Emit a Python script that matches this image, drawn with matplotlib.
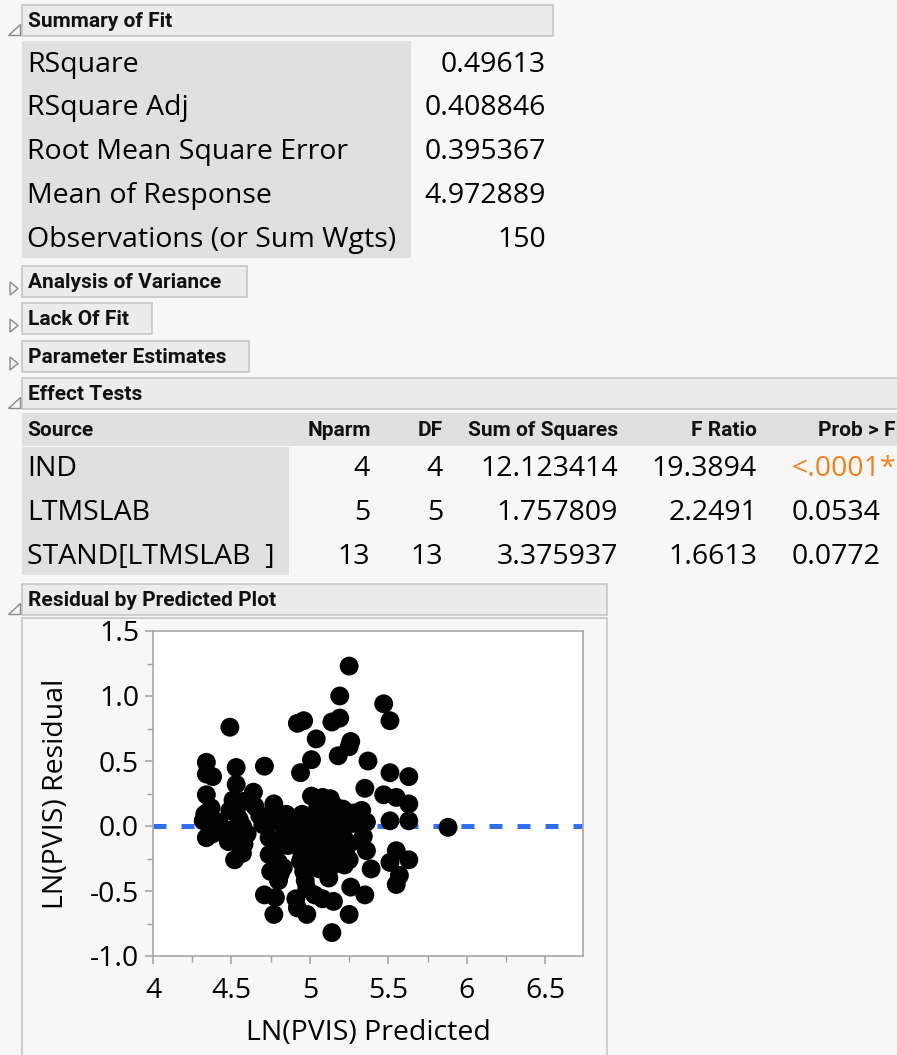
import matplotlib
matplotlib.use("Agg")
import matplotlib.pyplot as plt
from matplotlib.patches import Rectangle, Polygon
from matplotlib.ticker import MultipleLocator

# ---------------- data ----------------
fit_labels = ["RSquare", "RSquare Adj", "Root Mean Square Error", "Mean of Response",
              "Observations (or Sum Wgts)"]
fit_values = ["0.49613", "0.408846", "0.395367", "4.972889", "150"]

collapsed_sections = ["Analysis of Variance", "Lack Of Fit", "Parameter Estimates"]

effect_cols = ["Source", "Nparm", "DF", "Sum of Squares", "F Ratio", "Prob > F"]
effect_source = ["IND", "LTMSLAB", "STAND[LTMSLAB  ]"]
effect_nparm = ["4", "5", "13"]
effect_df = ["4", "5", "13"]
effect_ss = ["12.123414", "1.757809", "3.375937"]
effect_f = ["19.3894", "2.2491", "1.6613"]
effect_p = ["<.0001*", "0.0534", "0.0772"]

pred = [4.34, 4.34, 4.38, 4.34, 4.37, 4.33, 4.32, 4.38, 4.42, 4.34, 4.38, 4.36, 4.40, 4.35,
        4.49, 4.53, 4.53, 4.54, 4.58, 4.49, 4.53, 4.48, 4.53, 4.58, 4.52, 4.57, 4.55, 4.50,
        4.57, 4.60, 4.51, 4.56,
        4.64, 4.65, 4.71, 4.70, 4.68,
        4.77, 4.74, 4.74, 4.79, 4.74, 4.80, 4.75, 4.81, 4.71, 4.78, 4.77, 4.85, 4.82, 4.84,
        4.78, 4.83, 4.76, 4.86, 4.80,
        4.92, 4.96, 4.94, 4.91, 4.92, 4.98, 4.96, 4.97, 4.94, 4.93, 4.95, 4.90, 4.96, 4.99,
        4.92, 4.97, 4.89, 4.98, 4.95,
        5.01, 5.04, 5.01, 5.08, 5.03, 5.08, 5.04, 5.02, 5.05, 5.07, 5.02, 5.06, 5.09, 5.03,
        5.05, 5.08, 5.01, 5.06, 5.09,
        5.14, 5.19, 5.19, 5.18, 5.13, 5.15, 5.14, 5.13, 5.12, 5.15, 5.11, 5.17, 5.14, 5.19,
        5.16, 5.18, 5.12, 5.20, 5.11,
        5.25, 5.26, 5.25, 5.21, 5.25, 5.25, 5.26, 5.23, 5.22, 5.28, 5.24, 5.27, 5.22,
        5.37, 5.35, 5.33, 5.36, 5.32, 5.36, 5.39, 5.35, 5.34,
        5.47, 5.51, 5.51, 5.63, 5.47, 5.55, 5.63, 5.51, 5.63, 5.51, 5.55, 5.63, 5.57, 5.55,
        5.88]
resid = [0.49, 0.40, 0.38, 0.24, 0.14, 0.09, 0.04, 0.02, 0.03, -0.09, -0.06, 0.06, -0.02, 0.11,
         0.76, 0.45, 0.32, 0.18, 0.19, 0.12, 0.10, -0.12, -0.10, -0.14, -0.26, -0.21, 0.05, -0.03,
         0.00, -0.06, 0.20, -0.18,
         0.26, 0.15, 0.46, 0.01, 0.08,
         0.17, 0.03, -0.09, -0.14, -0.22, -0.28, -0.35, -0.37, -0.53, -0.55, -0.68, 0.09, 0.02, -0.06,
         -0.20, -0.32, 0.10, -0.15, -0.42,
         0.79, 0.81, 0.41, -0.56, -0.63, -0.68, -0.35, -0.42, -0.27, 0.05, 0.09, -0.05, -0.10, -0.18,
         -0.13, 0.00, 0.02, -0.48, -0.22,
         0.51, 0.67, 0.23, 0.22, -0.53, -0.56, -0.27, 0.05, -0.05, 0.12, -0.12, -0.20, -0.02, -0.30,
         0.15, -0.10, -0.22, -0.33, 0.18,
         0.80, 0.83, 1.00, 0.54, 0.21, -0.58, -0.82, -0.32, 0.08, 0.00, -0.08, -0.15, -0.22, 0.10,
         0.15, -0.05, -0.40, -0.25, 0.12,
         1.23, 0.65, 0.61, 0.13, -0.26, -0.68, -0.47, 0.05, -0.10, 0.10, -0.15, 0.02, -0.30,
         0.50, 0.29, 0.12, 0.03, -0.12, -0.19, -0.33, -0.53, -0.08,
         0.94, 0.81, 0.41, 0.38, 0.24, 0.22, 0.17, 0.04, 0.04, -0.28, -0.19, -0.26, -0.38, -0.45,
         -0.01]

x_ticks = [4, 4.5, 5, 5.5, 6, 6.5]
x_ticklabels = ["4", "4.5", "5", "5.5", "6", "6.5"]
y_ticks = [-1.0, -0.5, 0.0, 0.5, 1.0, 1.5]
y_ticklabels = ["-1.0", "-0.5", "0.0", "0.5", "1.0", "1.5"]

# ---------------- style ----------------
W, H = 897, 1055
BG = "#f7f7f7"
HDR = "#ececec"
HDR_EDGE = "#c6c6c6"
SHADE = "#e0e0e0"
BODY_FONT = ["Open Sans", "DejaVu Sans"]
HEAD_FONT = ["Liberation Sans Narrow", "Roboto", "DejaVu Sans"]
BODY_SIZE = 20.5
HEAD_SIZE = 15

fig = plt.figure(figsize=(W / 100, H / 100), dpi=100)
fig.patch.set_facecolor(BG)
bg = fig.add_axes([0, 0, 1, 1])
bg.set_xlim(0, W)
bg.set_ylim(H, 0)
bg.axis("off")


def header(x0, y0, x1, y1, text, opened):
    bg.add_patch(Rectangle((x0, y0), x1 - x0, y1 - y0, facecolor=HDR,
                           edgecolor=HDR_EDGE, lw=1.2))
    bg.text(x0 + 6, (y0 + y1) / 2 + 1, text, family=HEAD_FONT, weight="bold",
            fontsize=HEAD_SIZE, va="center", ha="left", color="#111111")
    if opened:
        tri = [(8, y1 - 1), (20, y1 - 1), (20, y1 - 12)]
    else:
        tri = [(10, y1 - 15), (10, y1 - 2), (18, y1 - 8.5)]
    bg.add_patch(Polygon(tri, closed=True, facecolor="#f4f4f4",
                         edgecolor="#8a8a8a", lw=1.0))


# Summary of Fit
header(22, 5, 553, 36, "Summary of Fit", True)
bg.add_patch(Rectangle((22, 41), 389, 217, facecolor=SHADE, edgecolor="none"))
row_y = [65, 108, 152, 196, 240]
for lab, val, yy in zip(fit_labels, fit_values, row_y):
    bg.text(27, yy, lab, family=BODY_FONT, fontsize=BODY_SIZE, va="center", ha="left")
    bg.text(546, yy, val, family=BODY_FONT, fontsize=BODY_SIZE, va="center", ha="right")

# collapsed sections
for (x1, y0), name in zip([(247, 266), (152, 303), (249, 341)], collapsed_sections):
    header(22, y0, x1, y0 + 31, name, False)

# Effect Tests
header(22, 378, 905, 409, "Effect Tests", True)
bg.add_patch(Rectangle((22, 413), 880, 33, facecolor=SHADE, edgecolor="none"))
bg.add_patch(Rectangle((22, 447), 267, 128, facecolor=SHADE, edgecolor="none"))
col_x = [27, 371, 443, 618, 757, 895]
col_ha = ["left", "right", "right", "right", "right", "right"]
for c, xx, ha in zip(effect_cols, col_x, col_ha):
    bg.text(xx, 431, c, family=HEAD_FONT, weight="bold", fontsize=HEAD_SIZE,
            va="center", ha=ha, color="#111111")
eff_y = [469, 513, 557]
for i, yy in enumerate(eff_y):
    bg.text(27, yy, effect_source[i], family=BODY_FONT, fontsize=BODY_SIZE, va="center")
    bg.text(370, yy, effect_nparm[i], family=BODY_FONT, fontsize=BODY_SIZE, va="center", ha="right")
    bg.text(443, yy, effect_df[i], family=BODY_FONT, fontsize=BODY_SIZE, va="center", ha="right")
    bg.text(618, yy, effect_ss[i], family=BODY_FONT, fontsize=BODY_SIZE, va="center", ha="right")
    bg.text(757, yy, effect_f[i], family=BODY_FONT, fontsize=BODY_SIZE, va="center", ha="right")
    bg.text(792, yy, effect_p[i], family=BODY_FONT, fontsize=BODY_SIZE, va="center", ha="left",
            color="#f0821e" if effect_p[i].startswith("<") else "black")

# Residual by Predicted Plot
header(22, 584, 607, 615, "Residual by Predicted Plot", True)
bg.add_patch(Rectangle((22, 618), 585, 450, facecolor=BG, edgecolor=HDR_EDGE, lw=1.2))

ax_l, ax_r, ax_t, ax_b = 153, 583, 631, 956
ax = fig.add_axes([ax_l / W, (H - ax_b) / H, (ax_r - ax_l) / W, (ax_b - ax_t) / H])
ax.set_facecolor("white")
ax.set_xlim(4, 6.74)
ax.set_ylim(-1.0, 1.5)
ax.axhline(0, color="#2f6ff0", lw=3.6, ls=(0, (2.6, 3.0)), zorder=1)
ax.scatter(pred, resid, s=185, color="black", edgecolors="none", zorder=3)
ax.set_xticks(x_ticks)
ax.set_xticklabels(x_ticklabels)
ax.set_yticks(y_ticks)
ax.set_yticklabels(y_ticklabels)
ax.xaxis.set_minor_locator(MultipleLocator(0.25))
ax.yaxis.set_minor_locator(MultipleLocator(0.25))
for s in ax.spines.values():
    s.set_color("#a8a8a8")
    s.set_linewidth(1.2)
ax.tick_params(which="major", length=6, width=1.1, color="#a0a0a0", labelsize=20.5)
ax.tick_params(axis="x", which="major", pad=9)
ax.tick_params(axis="y", which="major", pad=4)
ax.tick_params(which="minor", length=4, width=1.0, color="#a0a0a0")
for lbl in ax.get_xticklabels() + ax.get_yticklabels():
    lbl.set_family(BODY_FONT)
ax.set_xlabel("LN(PVIS) Predicted", family=BODY_FONT, fontsize=20.5, labelpad=10)
ax.set_ylabel("LN(PVIS) Residual", family=BODY_FONT, fontsize=20.5, labelpad=14)

fig.savefig("out.png", dpi=100, facecolor=fig.get_facecolor())
